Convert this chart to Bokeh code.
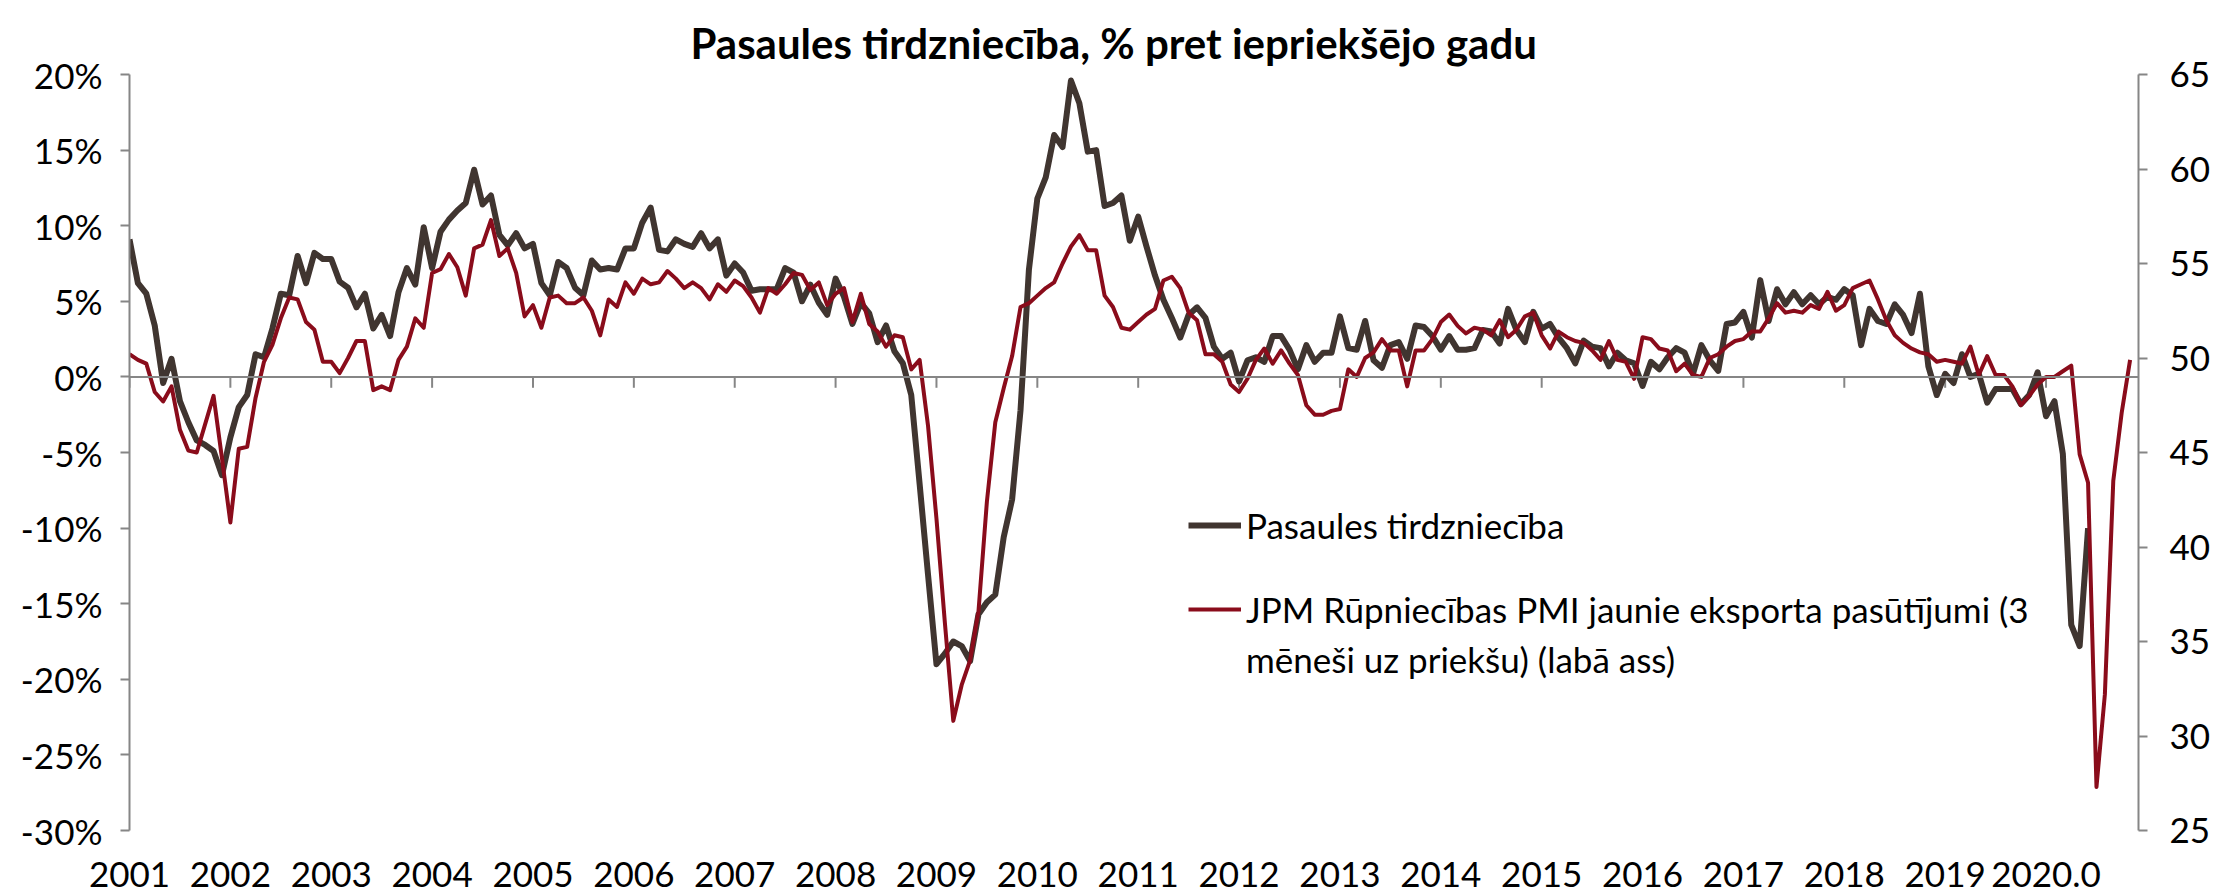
from bokeh.plotting import figure
from bokeh.models import Range1d, LinearAxis, FixedTicker, Span, Legend, LegendItem, Grid
from bokeh.embed import file_html
from bokeh.resources import INLINE

# ---------------- data ----------------
years = ["2001", "2002", "2003", "2004", "2005", "2006", "2007", "2008", "2009", "2010",
         "2011", "2012", "2013", "2014", "2015", "2016", "2017", "2018", "2019", "2020.0"]

# World trade, % y/y, monthly from Jan 2001 (left axis)
trade = [
    9.1, 6.2, 5.5, 3.4, -0.4, 1.2, -1.6, -3.0, -4.2, -4.5, -4.9, -6.5,
    -4.0, -2.0, -1.2, 1.5, 1.3, 3.2, 5.5, 5.4, 8.0, 6.2, 8.2, 7.8,
    7.8, 6.3, 5.9, 4.6, 5.5, 3.2, 4.1, 2.7, 5.6, 7.2, 6.1, 9.9,
    7.2, 9.6, 10.4, 11.0, 11.5, 13.7, 11.4, 12.0, 9.4, 8.7, 9.5, 8.5,
    8.8, 6.2, 5.4, 7.6, 7.2, 5.9, 5.4, 7.7, 7.1, 7.2, 7.1, 8.5,
    8.5, 10.2, 11.2, 8.4, 8.3, 9.1, 8.8, 8.6, 9.5, 8.5, 9.1, 6.7,
    7.5, 6.9, 5.7, 5.8, 5.8, 5.8, 7.2, 6.9, 5.0, 6.1, 4.9, 4.1,
    6.5, 5.3, 3.5, 4.9, 4.2, 2.3, 3.4, 1.7, 0.9, -1.2, -7.1, -13.1,
    -19.0, -18.3, -17.5, -17.8, -18.8, -15.7, -14.9, -14.4, -10.6, -8.1, -2.2, 7.1,
    11.8, 13.2, 16.0, 15.2, 19.6, 18.1, 14.9, 15.0, 11.3, 11.5, 12.0, 9.0,
    10.6, 8.6, 6.7, 5.1, 3.9, 2.6, 4.1, 4.6, 3.9, 2.0, 1.2, 1.6,
    -0.3, 1.1, 1.3, 1.0, 2.7, 2.7, 1.8, 0.5, 2.1, 1.0, 1.6, 1.6,
    4.0, 1.9, 1.8, 3.7, 1.1, 0.6, 2.1, 2.3, 1.2, 3.4, 3.3, 2.7,
    1.8, 2.7, 1.8, 1.8, 1.9, 3.1, 3.0, 2.2, 4.5, 3.1, 2.3, 4.3,
    3.2, 3.5, 2.6, 1.9, 0.9, 2.4, 2.0, 1.9, 0.7, 1.6, 1.1, 0.9,
    -0.6, 1.0, 0.5, 1.3, 1.9, 1.6, 0.2, 2.1, 1.1, 0.4, 3.5, 3.6,
    4.3, 2.6, 6.4, 3.7, 5.8, 4.8, 5.6, 4.8, 5.4, 4.8, 5.3, 5.1,
    5.8, 5.4, 2.1, 4.5, 3.7, 3.5, 4.8, 4.1, 2.9, 5.5, 0.7, -1.2,
    0.2, -0.4, 1.5, 0.0, 0.2, -1.7, -0.8, -0.8, -0.8, -1.8, -1.2, 0.3,
    -2.6, -1.6, -5.1, -16.4, -17.8, -10.0,
]

# JPM manufacturing PMI new export orders, shifted 3 months ahead (right axis)
pmi = [
    50.2, 49.9, 49.7, 48.2, 47.7, 48.5, 46.2, 45.1, 45.0, 46.5, 48.0, 44.7,
    41.3, 45.2, 45.3, 47.9, 49.8, 50.7, 52.1, 53.2, 53.1, 51.9, 51.5, 49.8,
    49.8, 49.2, 50.0, 50.9, 50.9, 48.3, 48.5, 48.3, 49.9, 50.6, 52.1, 51.6,
    54.5, 54.7, 55.5, 54.8, 53.3, 55.8, 56.0, 57.3, 55.4, 55.8, 54.5, 52.2,
    52.8, 51.6, 53.2, 53.3, 52.9, 52.9, 53.2, 52.5, 51.2, 53.1, 52.7, 54.0,
    53.4, 54.2, 53.9, 54.0, 54.6, 54.2, 53.7, 54.0, 53.7, 53.1, 53.9, 53.5,
    54.1, 53.8, 53.2, 52.4, 53.7, 53.4, 53.9, 54.5, 54.4, 53.6, 54.0, 52.8,
    53.4, 53.7, 51.9, 53.4, 51.8, 51.4, 50.6, 51.2, 51.1, 49.4, 49.9, 46.4,
    41.5, 36.0, 30.8, 32.7, 34.0, 36.6, 42.4, 46.6, 48.4, 50.1, 52.7, 52.9,
    53.3, 53.7, 54.0, 55.0, 55.9, 56.5, 55.7, 55.7, 53.3, 52.7, 51.6, 51.5,
    51.9, 52.3, 52.6, 54.1, 54.3, 53.7, 52.4, 52.0, 50.2, 50.2, 49.8, 48.6,
    48.2, 48.9, 49.9, 50.5, 49.7, 50.4, 49.7, 49.1, 47.5, 47.0, 47.0, 47.2,
    47.3, 49.4, 49.0, 50.0, 50.3, 51.0, 50.4, 50.4, 48.5, 50.4, 50.4, 51.0,
    51.9, 52.3, 51.7, 51.3, 51.6, 51.5, 51.2, 52.0, 51.1, 51.5, 52.2, 52.4,
    51.2, 50.5, 51.4, 51.1, 50.9, 50.8, 50.4, 49.9, 50.9, 49.9, 49.8, 48.9,
    51.1, 51.0, 50.5, 50.4, 49.3, 49.7, 49.1, 49.0, 50.0, 50.2, 50.6, 50.9,
    51.0, 51.4, 51.4, 52.1, 52.9, 52.4, 52.5, 52.4, 52.8, 52.6, 53.5, 52.5,
    52.8, 53.7, 53.9, 54.1, 53.1, 52.0, 51.2, 50.8, 50.5, 50.3, 50.2, 49.8,
    49.9, 49.8, 49.7, 50.6, 49.1, 50.1, 49.1, 49.1, 48.5, 47.5, 48.0, 48.6,
    49.0, 49.0, 49.3, 49.6, 44.9, 43.4, 27.3, 32.2, 43.5, 47.1, 49.9,
]

left_ticks = [-30, -25, -20, -15, -10, -5, 0, 5, 10, 15, 20]
right_ticks = [25, 30, 35, 40, 45, 50, 55, 60, 65]
n_categories = 240
label_trade = "Pasaules tirdzniecība"
label_pmi_1 = "JPM Rūpniecības PMI jaunie eksporta pasūtījumi (3"
label_pmi_2 = "mēneši uz priekšu) (labā ass)"
title_text = "Pasaules tirdzniecība, % pret iepriekšējo gadu"

# ---------------- styling ----------------
FONT = "Lato"
AX = "#868686"
C_TRADE = "#403530"
C_PMI = "#8A0C1B"
FS = "35px"

year_pos = [12 * k for k in range(len(years))]

p = figure(width=2229, height=894, output_backend="svg", toolbar_location=None,
           x_range=Range1d(0, n_categories - 1), y_range=Range1d(-30, 20),
           x_axis_location=None, y_axis_location=None,
           min_border_left=129, min_border_right=91, min_border_top=74, min_border_bottom=64)
p.extra_y_ranges = {"pmi": Range1d(25, 65)}
p.outline_line_color = None
p.background_fill_color = "white"
p.border_fill_color = "white"
p.center = [c for c in p.center if not isinstance(c, Grid)]

p.title.text = title_text
p.title.align = "left"
p.title.offset = 561
p.title.standoff = 14
p.title.text_font = FONT
p.title.text_font_style = "bold"
p.title.text_font_size = "42px"
p.title.text_color = "#000000"


def style_axis(ax, standoff):
    ax.axis_line_color = AX
    ax.axis_line_width = 2
    ax.major_tick_line_color = AX
    ax.major_tick_line_width = 2
    ax.major_tick_in = 0
    ax.major_tick_out = 9
    ax.minor_tick_line_color = None
    ax.major_label_text_font = FONT
    ax.major_label_text_font_size = FS
    ax.major_label_text_color = "#000000"
    ax.major_label_standoff = standoff


ax_l = LinearAxis(ticker=FixedTicker(ticks=left_ticks),
                  major_label_overrides={t: f"{t}%" for t in left_ticks})
style_axis(ax_l, 18)
p.add_layout(ax_l, "left")

ax_r = LinearAxis(y_range_name="pmi", ticker=FixedTicker(ticks=right_ticks))
style_axis(ax_r, 22)
p.add_layout(ax_r, "right")

ax_b = LinearAxis(ticker=FixedTicker(ticks=year_pos),
                  major_label_overrides={pos: yr for pos, yr in zip(year_pos, years)})
style_axis(ax_b, 31)
ax_b.axis_line_color = None
ax_b.major_tick_line_color = None
ax_b.major_tick_out = 0
p.add_layout(ax_b, "below")

# horizontal category axis crossing at 0 %
p.add_layout(Span(location=0, dimension="width", line_color=AX, line_width=2))
p.segment(x0=year_pos, y0=[0] * len(year_pos), x1=year_pos, y1=[-0.72] * len(year_pos),
          line_color=AX, line_width=2)

r_trade = p.line(list(range(len(trade))), trade, line_color=C_TRADE, line_width=6,
                 line_join="round")
r_pmi = p.line(list(range(len(pmi))), pmi, y_range_name="pmi", line_color=C_PMI,
               line_width=4, line_join="round")
r_dummy = p.line([], [], line_alpha=0)


def style_legend(lg, h):
    lg.border_line_color = None
    lg.background_fill_alpha = 0
    lg.padding = 0
    lg.margin = 0
    lg.spacing = 0
    lg.glyph_width = 53
    lg.glyph_height = h
    lg.label_height = h
    lg.label_standoff = 5
    lg.label_text_font = FONT
    lg.label_text_font_size = FS
    lg.label_text_color = "#000000"


leg_a = Legend(items=[LegendItem(label=label_trade, renderers=[r_trade])], location=(1059, 284))
style_legend(leg_a, 40)
leg_b = Legend(items=[LegendItem(label=label_pmi_1, renderers=[r_pmi]),
                      LegendItem(label=label_pmi_2, renderers=[r_dummy])], location=(1059, 146))
style_legend(leg_b, 50)
p.add_layout(leg_a)
p.add_layout(leg_b)

open("out.html", "w").write(file_html(p, INLINE))
